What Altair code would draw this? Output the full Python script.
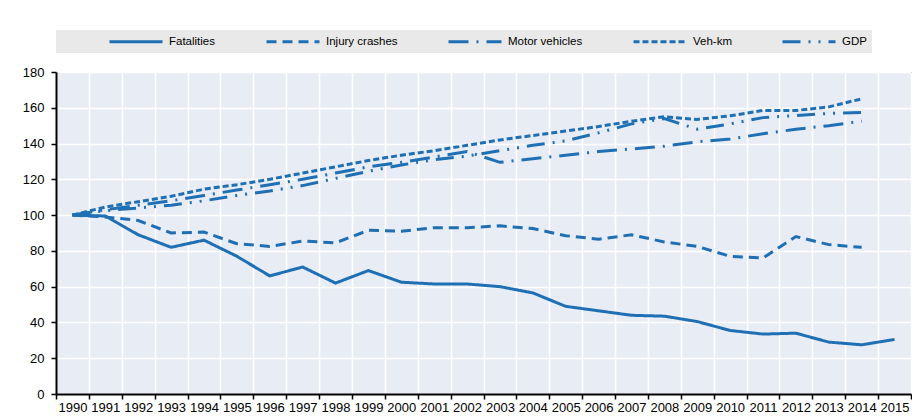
import altair as alt
import pandas as pd

years = [str(y) for y in range(1990, 2016)]
fatalities = [100, 99.5, 89, 82, 86, 77, 66, 71, 62, 69, 62.5, 61.5, 61.5, 60, 56.5,
              49, 46.5, 44, 43.5, 40.5, 35.5, 33.5, 34, 29, 27.5, 30.5]
injury = [100, 99, 97, 90, 90.5, 84, 82.5, 85.5, 84.5, 91.5, 91, 93, 93, 94, 92.5,
          88.5, 86.5, 89, 85, 82.5, 77, 76, 88, 83.5, 82]
motor = [100, 103, 105.5, 108, 111, 114, 117, 120, 123.5, 127, 129.5, 132.5, 135.5,
         129.5, 131.5, 133.5, 135.5, 137, 138.5, 141, 142.5, 145.5, 148, 150, 152.5]
vehkm = [100, 104.5, 107.5, 110.5, 114.5, 117, 120, 123.5, 127, 130.5, 133.5, 136,
         139, 142, 144.5, 147, 149.5, 152.5, 155, 153.5, 155.5, 158.5, 158.5, 160.5, 165]
gdp = [100, 102.5, 104, 105.5, 108, 111, 113.5, 116.5, 120.5, 124.5, 128, 131, 133,
       136, 139, 141.5, 146, 151, 154, 148, 151, 154.5, 155.7, 156.8, 157.4]

series_names = ["Fatalities", "Injury crashes", "Motor vehicles", "Veh-km", "GDP"]
series_values = [fatalities, injury, motor, vehkm, gdp]
dashes = [[1, 0], [10, 6], [20, 8, 2, 8], [6, 3], [18, 8, 2, 8, 2, 8]]

rows = []
for name, vals in zip(series_names, series_values):
    for y, v in zip(years, vals):
        rows.append({"year": y, "value": v, "series": name})
df = pd.DataFrame(rows)

BLUE = "#1f6fb4"
FONT = "Liberation Sans, Arial"

chart = alt.Chart(df).mark_line(strokeWidth=3, strokeCap="butt").encode(
    x=alt.X("year:O", scale=alt.Scale(type="band", domain=years, paddingInner=0, paddingOuter=0),
            axis=alt.Axis(title=None, labelAngle=0, tickBand="extent", grid=True,
                          labelPadding=2, tickSize=5, labelFontSize=13)),
    y=alt.Y("value:Q", scale=alt.Scale(domain=[0, 180], nice=False),
            axis=alt.Axis(title=None, values=list(range(0, 181, 20)), tickSize=5,
                          labelPadding=7, labelFontSize=13)),
    color=alt.Color("series:N", scale=alt.Scale(domain=series_names, range=[BLUE] * 5),
                    legend=alt.Legend(title=None)),
    strokeDash=alt.StrokeDash("series:N", scale=alt.Scale(domain=series_names, range=dashes),
                              legend=alt.Legend(title=None)),
).properties(
    width=855, height=322,
    autosize=alt.AutoSizeParams(type="none"),
    padding={"left": 48, "top": 64, "right": 1, "bottom": 24},
).configure_view(
    fill="#e8ecf4", stroke="#333333", strokeWidth=1
).configure_axis(
    gridColor="white", gridWidth=1.5, domainColor="black", domainWidth=2,
    tickColor="black", tickWidth=1.5, labelColor="black", labelFont=FONT,
).configure_legend(
    orient="none", legendX=0, legendY=-42, direction="horizontal",
    fillColor="#e9e9e9", padding=5, columnPadding=2, symbolOffset=47,
    symbolType="M-1,0L9.6,0", symbolSize=100, symbolStrokeWidth=3,
    labelFont=FONT, labelFontSize=11.5, labelColor="black", labelOffset=48,
    offset=0,
)

chart.save("out.html", embed_options={"renderer": "svg", "actions": False})
